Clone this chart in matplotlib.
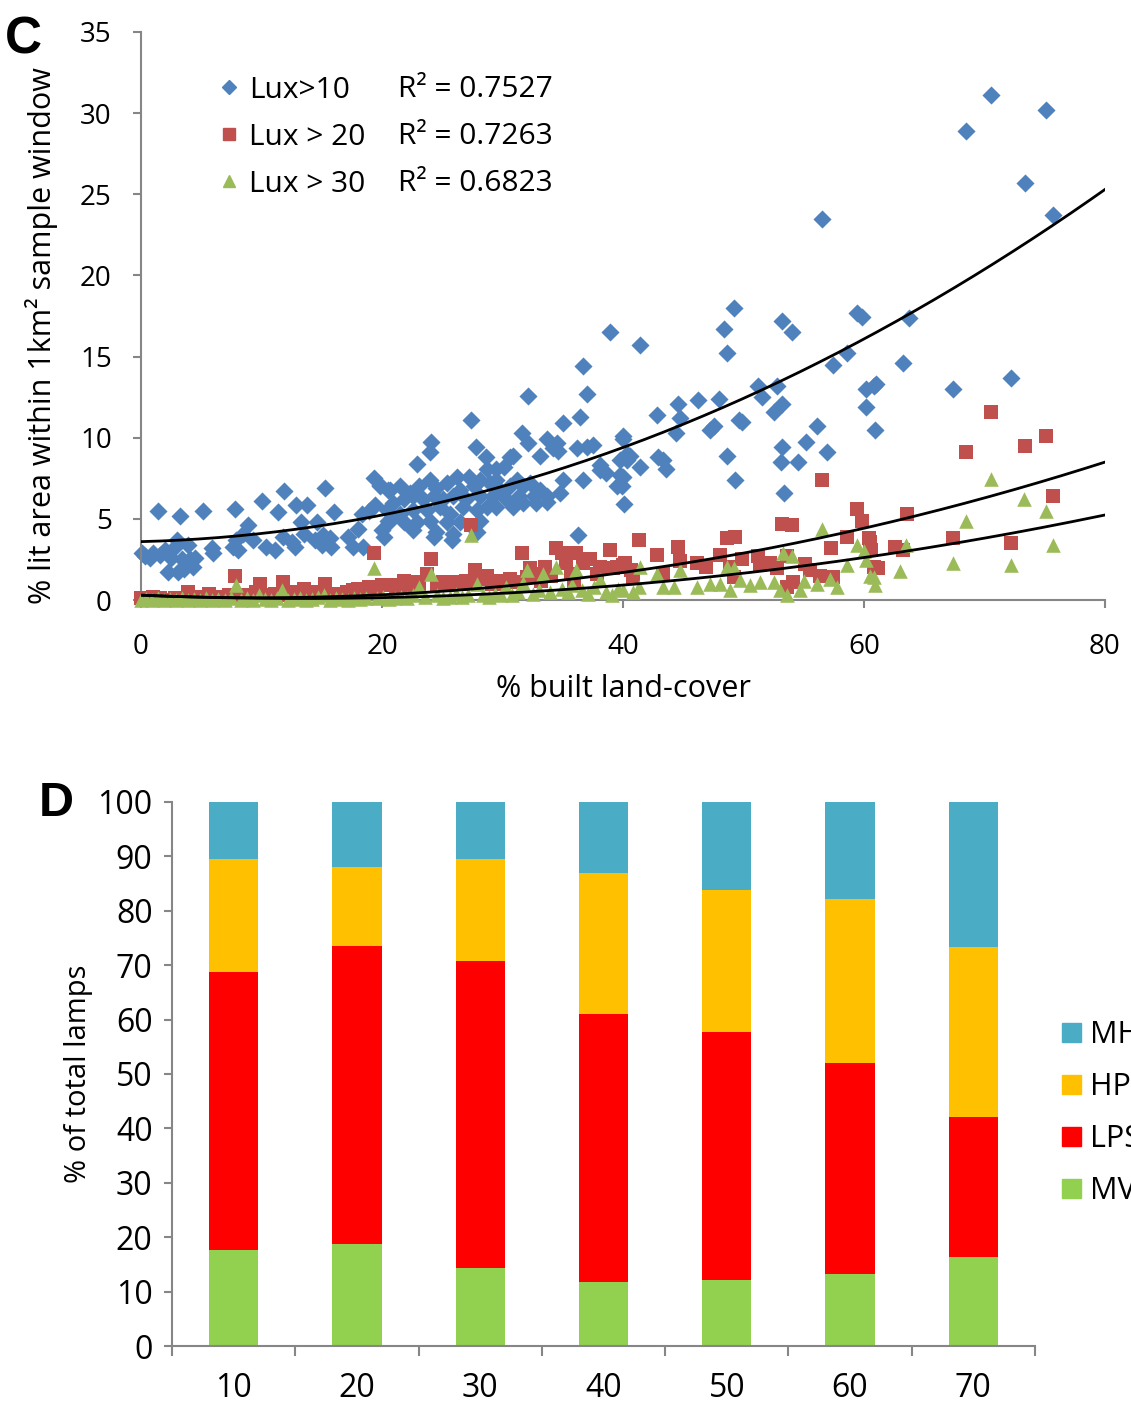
import numpy as np
import matplotlib
matplotlib.use("Agg")
import matplotlib.pyplot as plt
from matplotlib.patches import Patch
from matplotlib.lines import Line2D

plt.rcParams['font.family'] = ['Open Sans', 'DejaVu Sans']

# ---- panel C: lit area vs built land-cover ----
lux10_x = [0.05, 0.3, 0.75, 1.0, 1.4, 1.6, 2.0, 2.2, 2.5, 2.8, 3.0, 3.1, 3.2, 3.4, 3.6, 3.9, 4.1, 4.3, 4.5,
           5.15, 5.9, 6.0, 7.6, 7.8, 7.9, 8.05, 8.5, 8.9, 9.3, 10.0, 10.4, 11.1, 11.4, 11.9, 11.8, 12.5,
           12.8, 12.9, 13.3, 13.5, 13.75, 14.4, 14.6, 15.0, 15.1, 15.3, 15.7, 15.8, 16.0, 17.2, 17.6, 18.0,
           18.3, 18.4, 18.9, 19.3, 19.4, 19.8, 20.0, 20.2, 20.5, 20.5,
           19.8, 20.7, 21.5, 22.3, 23.1, 24.0, 24.5, 25.4, 26.2, 27.2, 26.5, 27.6, 28.1, 29.0, 29.5, 29.8,
           30.6, 31.2, 31.7, 32.3, 32.6, 31.4, 30.3, 29.2, 28.1, 27.0, 25.9, 25.1, 24.3, 23.4, 22.6, 21.8,
           20.9, 20.4, 21.5, 22.6, 23.7, 24.8, 25.6, 26.7, 27.9, 28.7, 29.5, 30.9, 31.7, 32.8, 33.7, 20.7,
           21.8, 22.9, 24.0, 25.4, 26.5, 28.1, 24.5, 25.9, 22.6, 27.9, 24.3, 25.8,
           22.9, 24.0, 24.1, 27.4, 27.8, 28.6, 28.7, 30.1, 30.9, 31.6, 32.1, 32.1, 33.1, 33.1, 33.7, 33.7,
           34.5, 34.6, 34.8, 35.0, 35.0, 36.2, 36.3, 36.4, 36.7, 36.7, 37.0, 37.0, 37.5, 38.1, 38.6, 39.5,
           39.75, 39.75, 40.0, 40.3, 38.9, 29.5, 30.6, 34.2, 38.1,
           40.0, 40.6, 40.3, 40.0, 39.9, 40.1, 41.4, 41.4, 42.8, 42.9, 43.3, 43.6, 44.4, 44.6, 44.7, 46.2,
           47.2, 47.55, 48.0, 48.4, 48.6, 48.6, 49.2, 49.3, 49.6, 49.85, 51.2, 51.5, 52.5, 52.75, 53.1,
           53.2, 53.2, 53.2, 53.4, 54.0, 54.5, 55.2, 56.1, 56.5, 56.9, 57.4, 58.6, 59.4, 59.8, 60.2, 60.2,
           60.8, 61.0, 60.9,
           63.7, 63.2, 67.4, 68.5, 70.5, 72.2, 73.4, 75.1, 75.7]
lux10_y = [2.9, 2.7, 2.6, 2.9, 5.5, 2.8, 3.1, 1.7, 2.6, 3.3, 3.7, 1.75, 5.2, 2.5, 1.9, 3.4, 2.5, 2.05, 2.6,
           5.5, 3.2, 2.9, 3.3, 5.6, 3.7, 3.1, 4.1, 4.6, 3.7, 6.1, 3.3, 3.1, 5.4, 6.7, 3.9, 3.6,
           3.3, 5.85, 4.8, 4.1, 5.85, 3.7, 4.8, 3.4, 4.0, 6.9, 3.8, 3.3, 5.4, 3.9, 3.3, 4.4,
           5.3, 3.3, 5.5, 7.5, 5.85, 7.1, 4.3, 3.9, 4.9, 6.8,
           7.0, 6.8, 7.0, 6.6, 7.0, 7.4, 6.9, 7.2, 7.6, 7.6, 6.8, 7.0, 7.4, 7.2, 7.4, 6.8,
           7.0, 7.4, 7.0, 7.2, 6.4, 6.4, 6.2, 6.4, 6.4, 6.2, 6.4, 6.2, 6.4, 6.2, 6.4, 6.2,
           6.0, 5.55, 5.3, 5.55, 5.55, 5.75, 5.3, 5.75, 5.55, 5.75, 5.75, 5.75, 5.95, 5.95, 6.4, 4.9,
           4.8, 4.8, 4.9, 4.8, 4.8, 4.9, 4.2, 4.1, 4.3, 4.2, 3.9, 3.7,
           8.4, 9.1, 9.75, 11.1, 9.4, 8.8, 8.1, 8.2, 8.9, 10.3, 9.65, 12.6, 8.9, 6.8, 9.9, 6.05,
           9.65, 9.2, 6.6, 10.9, 7.4, 9.35, 4.0, 11.25, 14.4, 7.4, 9.45, 12.7, 9.55, 8.3, 7.8, 7.0,
           8.6, 7.7, 9.95, 9.0, 16.5, 8.1, 8.8, 9.34, 8.0,
           10.1, 8.9, 8.6, 7.6, 7.0, 5.9, 15.7, 8.2, 11.4, 8.8, 8.6, 8.1, 10.3, 12.1, 11.2, 12.3,
           10.5, 10.7, 12.4, 16.7, 15.2, 8.9, 18.0, 7.4, 11.1, 11.0, 13.2, 12.5, 11.6, 13.2, 8.5,
           17.2, 12.1, 9.4, 6.6, 16.5, 8.5, 9.75, 10.7, 23.5, 9.1, 14.5, 15.2, 17.7, 17.45, 13.0, 11.9,
           13.2, 13.3, 10.5,
           17.4, 14.6, 13.0, 28.9, 31.1, 13.7, 25.7, 30.2, 23.75]

lux20_x = [0.0, 0.5, 1.0, 1.6, 2.2, 2.8, 3.4, 3.9, 4.5, 5.0, 5.6, 6.2, 6.8, 7.3, 7.8, 8.4, 9.0, 9.5, 9.9,
           10.5, 11.1, 11.8, 12.3, 12.9, 13.5, 14.1, 14.7, 15.3, 15.9, 16.5, 17.1, 17.6, 18.0, 18.9, 19.3,
           19.6, 20.0, 20.4, 20.8,
           21.2, 21.8, 22.3, 22.6, 23.1, 23.7, 24.1, 24.6, 25.1, 25.6, 26.2, 26.7, 27.0, 27.4, 27.7, 28.1,
           28.7, 29.1, 29.5, 30.0, 30.6, 31.0, 31.6, 32.0, 32.3, 32.8, 33.2, 33.5, 34.0, 34.4, 34.9, 35.3,
           35.7, 35.9, 36.1, 36.7, 37.3, 37.8, 38.1, 38.9, 39.2, 39.5, 40.0, 40.2, 40.7, 40.85,
           41.35, 42.8, 43.35, 44.6, 44.7, 46.1, 46.9, 48.05, 48.6, 48.9, 49.2, 49.3, 49.85, 51.2, 51.4,
           52.2, 52.75, 53.2, 53.6, 53.6, 54.0, 54.1, 55.1, 55.5, 56.35, 56.5, 57.3, 57.45, 58.6, 59.4,
           59.8, 60.4, 60.5, 60.6, 60.8, 61.2,
           62.6, 63.2, 63.6, 67.4, 68.5, 70.5, 72.2, 73.4, 75.1, 75.7]
lux20_y = [0.1, 0.0, 0.2, 0.1, 0.0, 0.15, 0.1, 0.5, 0.2, 0.1, 0.4, 0.1, 0.2, 0.3, 1.5, 0.3, 0.2, 0.5, 1.0,
           0.3, 0.4, 1.1, 0.3, 0.5, 0.7, 0.4, 0.5, 1.0, 0.4, 0.3, 0.5, 0.6, 0.7, 0.8, 2.9,
           0.6, 0.9, 0.9, 0.9,
           0.7, 1.2, 0.8, 1.1, 0.9, 1.6, 2.5, 1.0, 1.1, 0.9, 1.1, 1.0, 1.2, 4.6, 1.85, 1.3,
           1.5, 1.0, 1.2, 1.0, 1.27, 1.1, 2.9, 1.4, 1.95, 1.6, 1.2, 2.06, 1.5, 3.2, 2.9, 2.26,
           1.6, 1.1, 2.9, 2.26, 2.5, 1.6, 2.06, 3.1, 1.95, 2.05, 2.15, 2.26, 1.84, 1.4,
           3.7, 2.8, 1.6, 3.3, 2.4, 2.3, 2.05, 2.8, 3.8, 2.05, 1.4, 3.9, 2.5, 2.7, 2.15,
           2.3, 2.0, 4.7, 2.7, 0.8, 4.6, 1.1, 2.25, 1.85, 1.5, 7.4, 3.2, 1.4, 3.9, 5.6,
           4.9, 3.8, 3.6, 3.1, 2.05, 2.0,
           3.3, 3.1, 5.3, 3.8, 9.1, 11.6, 3.5, 9.5, 10.1, 6.4]

lux30_x = [0.0, 0.4, 0.9, 1.4, 1.9, 2.4, 2.9, 3.4, 3.9, 4.4, 4.9, 5.4, 5.9, 6.4, 7.0, 7.5, 7.9, 8.3, 8.8,
           9.3, 9.8, 10.3, 10.8, 11.3, 11.7, 12.2, 12.7, 13.2, 13.7, 14.2, 14.7, 15.2, 15.7, 16.2, 16.7,
           17.2, 17.7, 18.2, 18.7, 19.3, 19.6, 20.1,
           20.6, 21.1, 21.6, 22.1, 22.6, 23.1, 23.6, 24.1, 24.6, 25.1, 25.6, 26.1, 26.6, 27.1, 27.4, 27.9,
           28.4, 28.9, 29.4, 29.9, 30.3, 30.8, 31.3, 31.7, 32.0, 32.5, 33.0, 33.4, 33.9, 34.4, 34.9, 35.4,
           35.8, 36.1, 36.6, 37.1, 37.6, 38.1, 38.6, 39.1, 39.6, 40.0,
           40.85, 41.3, 41.4, 42.8, 43.35, 44.2, 44.7, 46.1, 47.2, 48.05, 48.6, 48.9, 49.2, 49.7, 50.5,
           51.4, 52.5, 53.0, 53.3, 53.6, 54.0, 54.7, 55.0, 56.1, 56.5, 57.2, 57.75, 58.6, 59.4, 60.0,
           60.2, 60.5, 60.8, 60.9,
           63.0, 63.5, 67.4, 68.5, 70.5, 72.2, 73.3, 75.1, 75.7]
lux30_y = [0.0, 0.05, 0.0, 0.1, 0.0, 0.05, 0.0, 0.1, 0.0, 0.05, 0.0, 0.1, 0.0, 0.05, 0.0, 0.1, 0.93, 0.0, 0.1,
           0.0, 0.3, 0.05, 0.0, 0.1, 0.62, 0.0, 0.05, 0.1, 0.0, 0.05, 0.2, 0.3, 0.0, 0.1, 0.05,
           0.0, 0.1, 0.05, 0.1, 1.95, 0.1, 0.2,
           0.05, 0.1, 0.2, 0.1, 0.3, 0.82, 0.2, 1.6, 0.3, 0.1, 0.2, 0.4, 0.2, 0.3, 4.0, 1.0,
           0.3, 0.2, 0.4, 0.3, 0.82, 0.3, 0.5, 1.03, 1.85, 0.4, 0.6, 1.6, 0.5, 2.06, 0.7, 0.5,
           0.9, 1.85, 0.6, 0.4, 0.8, 1.23, 0.5, 0.3, 0.7, 0.6,
           0.5, 0.8, 2.05, 1.6, 0.8, 0.8, 1.85, 0.8, 1.0, 1.0, 2.05, 0.6, 2.0, 1.25, 0.9,
           1.1, 1.1, 0.6, 2.9, 0.3, 2.7, 0.6, 1.2, 1.0, 4.35, 1.3, 0.8, 2.15, 3.4, 3.0,
           2.45, 1.5, 1.4, 0.9,
           1.8, 3.4, 2.3, 4.9, 7.45, 2.15, 6.2, 5.5, 3.4]

# quadratic trendline coefficients (a, b, c) and R^2, as printed on the chart
fit_lux10 = [0.003156, 0.01875, 3.6]
fit_lux20 = [0.0016875, -0.0325, 0.3]
fit_lux30 = [0.001156, -0.0307, 0.3]
series_labels = ['Lux>10', 'Lux > 20', 'Lux > 30']
r2_labels = ['R² = 0.7527', 'R² = 0.7263', 'R² = 0.6823']

# ---- panel D: lamp types by built land-cover class ----
classes = ['10', '20', '30', '40', '50', '60', '70']
mv = [17.6, 18.7, 14.4, 11.7, 12.1, 13.3, 16.3]
lps = [51.1, 54.9, 56.3, 49.4, 45.6, 38.7, 25.8]
hps = [20.8, 14.5, 18.8, 25.8, 26.1, 30.1, 31.2]
mh = [10.5, 11.9, 10.5, 13.1, 16.2, 17.9, 26.7]

blue, red, green = '#4F81BD', '#C0504D', '#9BBB59'
axis_grey = '#868686'

fig = plt.figure(figsize=(11.31, 14.03), dpi=100)

# ---------------- C ----------------
ax = fig.add_axes([0.1247, 0.5723, 0.8523, 0.4049])
ax.scatter(lux10_x, lux10_y, marker='D', s=85, color=blue, linewidths=0, clip_on=False, zorder=2)
ax.scatter(lux20_x, lux20_y, marker='s', s=110, color=red, linewidths=0, clip_on=False, zorder=3)
ax.scatter(lux30_x, lux30_y, marker='^', s=110, color=green, linewidths=0, clip_on=False, zorder=4)
xx = np.linspace(0, 80, 200)
for coef in (fit_lux10, fit_lux20, fit_lux30):
    ax.plot(xx, np.polyval(coef, xx), color='black', lw=2, zorder=5)

ax.set_xlim(0, 80)
ax.set_ylim(0, 35)
ax.set_xticks(range(0, 81, 20))
ax.set_yticks(range(0, 36, 5))
for s in ('top', 'right'):
    ax.spines[s].set_visible(False)
for s in ('left', 'bottom'):
    ax.spines[s].set_color(axis_grey)
    ax.spines[s].set_linewidth(1.5)
ax.tick_params(axis='both', direction='out', length=6, width=1.5, color=axis_grey, labelsize=20)
ax.tick_params(axis='x', pad=18)
ax.tick_params(axis='y', pad=15)
ax.set_xlabel('% built land-cover', fontsize=22, labelpad=9)
ax.set_ylabel('% lit area within 1km² sample window', fontsize=22)
ax.yaxis.set_label_coords(-0.086, 0.465)

handles = [Line2D([], [], marker='D', ls='none', color=blue, markersize=7),
           Line2D([], [], marker='s', ls='none', color=red, markersize=9),
           Line2D([], [], marker='^', ls='none', color=green, markersize=9)]
ax.legend(handles, series_labels, loc='upper left', bbox_to_anchor=(0.066, 0.944),
          frameon=False, fontsize=21.5, handlelength=0.8, handletextpad=0.3,
          labelspacing=0.6, borderaxespad=0)
for i, txt in enumerate(r2_labels):
    ax.text(0.2666, 0.898 - i * 0.082, txt, transform=ax.transAxes, fontsize=21.5, va='center')

fig.text(0.004, 0.9886, 'C', fontsize=37, fontweight='bold', family='Liberation Sans', va='top')

# ---------------- D ----------------
ax2 = fig.add_axes([0.1521, 0.0406, 0.763, 0.3878])
pos = np.arange(len(classes))
w = 0.4
ax2.bar(pos, mv, w, color='#92D050', label='MV')
ax2.bar(pos, lps, w, bottom=mv, color='#FF0000', label='LPS')
b2 = np.array(mv) + np.array(lps)
ax2.bar(pos, hps, w, bottom=b2, color='#FFC000', label='HPS')
b3 = b2 + np.array(hps)
ax2.bar(pos, mh, w, bottom=b3, color='#4BACC6', label='MH')

ax2.set_xlim(-0.5, len(classes) - 0.5)
ax2.set_ylim(0, 100)
ax2.set_yticks(range(0, 101, 10))
ax2.set_xticks(pos)
ax2.set_xticklabels(classes)
ax2.set_xticks(np.arange(-0.5, len(classes), 1.0), minor=True)
for s in ('top', 'right'):
    ax2.spines[s].set_visible(False)
for s in ('left', 'bottom'):
    ax2.spines[s].set_color(axis_grey)
    ax2.spines[s].set_linewidth(1.5)
ax2.tick_params(axis='x', which='major', length=0, labelsize=23, pad=19)
ax2.tick_params(axis='x', which='minor', direction='out', length=7, width=1.5, color=axis_grey)
ax2.tick_params(axis='y', direction='out', length=6, width=1.5, color=axis_grey, labelsize=23, pad=8)
ax2.set_ylabel('% of total lamps', fontsize=21, labelpad=3)

leg_handles = [Patch(color='#4BACC6'), Patch(color='#FFC000'), Patch(color='#FF0000'), Patch(color='#92D050')]
fig.legend(leg_handles, ['MH', 'HPS', 'LPS', 'MV'], loc='upper left', bbox_to_anchor=(0.9284, 0.2815),
           frameon=False, fontsize=22, handlelength=0.6, handleheight=0.6, handletextpad=0.3,
           labelspacing=0.72, borderaxespad=0)

fig.text(0.034, 0.443, 'D', fontsize=35, fontweight='bold', family='Liberation Sans', va='top')

fig.savefig('out.png', dpi=100)
